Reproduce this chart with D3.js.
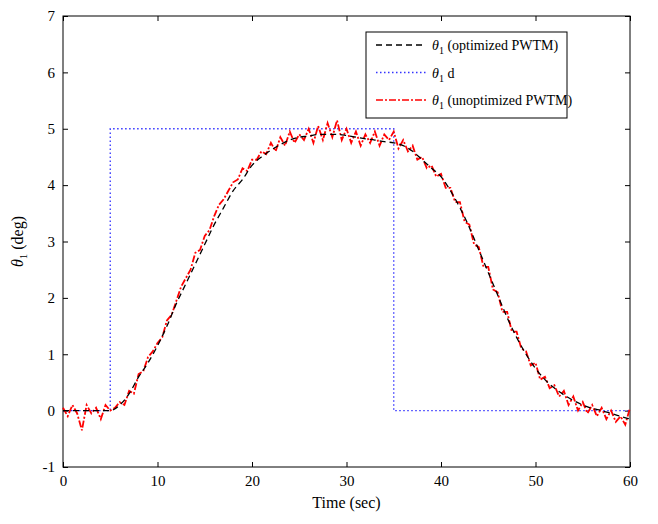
<!DOCTYPE html>
<html><head><meta charset="utf-8">
<script src="https://cdn.jsdelivr.net/npm/d3@7"></script>
<style>body{margin:0;background:#fff}text{font-family:"Liberation Serif",serif}</style>
</head><body>
<svg id="c" width="658" height="524"></svg>
<script>
// optimized curve, one value per second
const optT = d3.range(0, 61, 1);
const optY = [0,0,0,0,0,0,0.1,0.3,0.6,0.85,1.15,1.5,1.9,2.25,2.6,2.95,3.3,3.6,3.9,4.1,4.35,4.5,4.62,4.72,4.8,4.85,4.87,4.9,4.9,4.9,4.88,4.85,4.82,4.8,4.77,4.75,4.7,4.6,4.45,4.3,4.15,3.9,3.6,3.25,2.85,2.45,2.05,1.65,1.3,1.0,0.75,0.55,0.4,0.28,0.18,0.1,0.04,0,-0.05,-0.1,-0.15];
// desired step
const desT = [0,5,5,35,35,60];
const desY = [0,0,5,5,0,0];
// unoptimized (noisy), every half second
const rawT = d3.range(0, 60.01, 0.5);
const rawY = [0.05,-0.1,0.1,-0.05,-0.35,0.1,-0.05,0.05,-0.15,0.1,0.0,
0.05,0.15,0.1,0.35,0.3,0.65,0.7,0.95,1.05,1.2,1.3,1.6,1.7,1.95,2.2,2.35,2.5,2.8,2.85,3.1,3.2,3.45,3.65,3.75,3.9,4.05,4.1,4.3,4.25,4.45,4.45,4.6,4.55,4.75,4.6,4.85,4.7,4.95,4.75,4.9,4.8,5.0,4.75,5.05,4.8,5.1,4.85,5.15,4.8,5.0,4.75,4.95,4.7,4.9,4.75,4.95,4.7,4.9,4.8,4.95,4.65,4.8,4.6,4.7,4.45,4.5,4.3,4.35,4.15,4.2,3.95,3.95,3.7,3.7,3.35,3.3,2.95,2.9,2.55,2.55,2.15,2.1,1.75,1.75,1.4,1.4,1.1,1.05,0.8,0.85,0.55,0.6,0.4,0.45,0.25,0.35,0.1,0.25,0.0,0.15,-0.05,0.1,-0.1,0.05,-0.15,0.0,-0.2,-0.1,-0.25,0.05];
const xTicks = [0,10,20,30,40,50,60];
const yTicks = [-1,0,1,2,3,4,5,6,7];

const svg = d3.select("#c");
const L = 63, R = 630, T = 16, B = 467;
const x = d3.scaleLinear().domain([0,60]).range([L,R]);
const y = d3.scaleLinear().domain([-1,7]).range([B,T]);
const fmt = d => String(d);

const g = svg.append("g");
g.append("g").attr("transform",`translate(0,${B})`)
  .call(d3.axisBottom(x).tickValues(xTicks).tickFormat(fmt).tickSizeInner(-5).tickSizeOuter(0).tickPadding(8));
g.append("g").attr("transform",`translate(${L},0)`)
  .call(d3.axisLeft(y).tickValues(yTicks).tickFormat(fmt).tickSizeInner(-5).tickSizeOuter(0).tickPadding(8));
g.append("g").attr("transform",`translate(0,${T})`)
  .call(d3.axisTop(x).tickValues(xTicks).tickSizeInner(-5).tickSizeOuter(0).tickFormat(""));
g.append("g").attr("transform",`translate(${R},0)`)
  .call(d3.axisRight(y).tickValues(yTicks).tickSizeInner(-5).tickSizeOuter(0).tickFormat(""));
g.selectAll("text").attr("font-size",15).attr("font-family","Liberation Serif");
g.selectAll("path.domain").remove();
svg.append("rect").attr("x",L).attr("y",T).attr("width",R-L).attr("height",B-T)
  .attr("fill","none").attr("stroke","#000");

const line = d3.line().x(d=>x(d[0])).y(d=>y(d[1]));
const zip = (a,b) => a.slice(0,Math.min(a.length,b.length)).map((v,i)=>[v,b[i]]);

svg.append("path").datum(zip(desT,desY)).attr("d",line)
  .attr("fill","none").attr("stroke","#3333ff").attr("stroke-width",1.3).attr("stroke-dasharray","1.5,2.5");
svg.append("path").datum(zip(rawT,rawY)).attr("d",line)
  .attr("fill","none").attr("stroke","#ff0000").attr("stroke-width",1.8).attr("stroke-dasharray","7,2,2,2");
svg.append("path").datum(zip(optT,optY)).attr("d",d3.line().curve(d3.curveMonotoneX).x(d=>x(d[0])).y(d=>y(d[1])))
  .attr("fill","none").attr("stroke","#000").attr("stroke-width",1.3).attr("stroke-dasharray","6,4");

// legend
const lg = svg.append("g");
lg.append("rect").attr("x",366).attr("y",32).attr("width",201).attr("height",86)
  .attr("fill","#fff").attr("stroke","#000");
const items = [
  {c:"#000", d:"6,4", w:1.5, s:"(optimized PWTM)"},
  {c:"#3333ff", d:"1.5,2.5", w:1.3, s:"d"},
  {c:"#ff0000", d:"7,2,2,2", w:1.6, s:"(unoptimized PWTM)"}
];
items.forEach((it,i)=>{
  const yy = 45 + i*27.5;
  lg.append("line").attr("x1",376).attr("x2",426).attr("y1",yy).attr("y2",yy)
    .attr("stroke",it.c).attr("stroke-dasharray",it.d).attr("stroke-width",it.w);
  const t = lg.append("text").attr("x",432).attr("y",yy+5).attr("font-size",14);
  t.append("tspan").attr("font-style","italic").text("θ");
  t.append("tspan").attr("font-size",10).attr("dy",4).text("1");
  t.append("tspan").attr("dy",-4).text(" " + it.s);
});

svg.append("text").attr("x",(L+R)/2).attr("y",508).attr("text-anchor","middle").attr("font-size",16).text("Time (sec)");
const yl = svg.append("text").attr("transform",`translate(23,${(T+B)/2}) rotate(-90)`).attr("text-anchor","middle").attr("font-size",16);
yl.append("tspan").attr("font-style","italic").text("θ");
yl.append("tspan").attr("font-size",11).attr("dy",4).text("1");
yl.append("tspan").attr("dy",-4).text(" (deg)");
</script>
</body></html>
